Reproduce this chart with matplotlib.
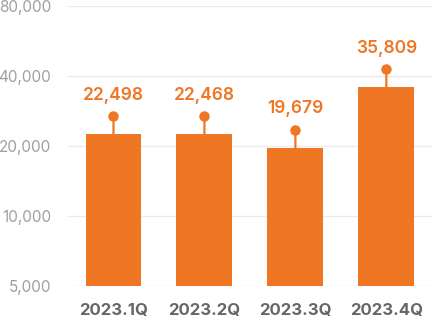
import matplotlib.pyplot as plt
import matplotlib.transforms as mtransforms

# quarterly figures
quarters = ['2023.1Q', '2023.2Q', '2023.3Q', '2023.4Q']
values = [22498, 22468, 19679, 35809]
y_ticks = [5000, 10000, 20000, 40000, 80000]

orange = '#EF7622'
plt.rcParams['font.family'] = ['Inter', 'DejaVu Sans']

fig = plt.figure(figsize=(4.34, 3.26), dpi=100)
ax = fig.add_axes([0.1567, 0.1227, 0.8383, 0.8589])

ax.set_yscale('log', base=2)
ax.set_ylim(y_ticks[0], y_ticks[-1])
ax.set_xlim(-0.5, len(quarters) - 0.5)

x = list(range(len(quarters)))
ax.bar(x, [v - y_ticks[0] for v in values], bottom=y_ticks[0],
       width=0.615, color=orange, zorder=3)

# stem + dot above each bar, then the value label
stem_px = 18
dot_tr = mtransforms.offset_copy(ax.transData, fig=fig, x=0, y=stem_px, units='dots')
for xi, v in zip(x, values):
    ax.annotate('', xy=(xi, v), xytext=(0, stem_px * 72 / fig.dpi),
                textcoords='offset points',
                arrowprops=dict(arrowstyle='-', color=orange, lw=1.6,
                                shrinkA=0, shrinkB=0), zorder=3)
    ax.plot(xi, v, 'o', color=orange, markersize=6.5, transform=dot_tr, zorder=4)
    ax.annotate(f'{v:,}', xy=(xi, v), xytext=(0, 39 * 72 / fig.dpi),
                textcoords='offset points', ha='center', va='center',
                fontsize=12.5, fontweight='semibold', color=orange)

ax.set_yticks(y_ticks)
ax.set_yticklabels([f'{t:,}' for t in y_ticks])
ax.yaxis.set_minor_locator(plt.NullLocator())
ax.set_xticks(x)
ax.set_xticklabels(quarters)

ax.tick_params(axis='y', length=0, pad=12, labelsize=11, labelcolor='#a0a0a0')
ax.tick_params(axis='x', length=0, pad=12, labelsize=12, labelcolor='#666666')
for lab in ax.get_xticklabels():
    lab.set_fontweight('bold')

ax.grid(axis='y', color='#ebebeb', lw=1, zorder=0)
ax.grid(axis='x', visible=False)
for s in ax.spines.values():
    s.set_visible(False)

fig.savefig('out.png', dpi=100)
